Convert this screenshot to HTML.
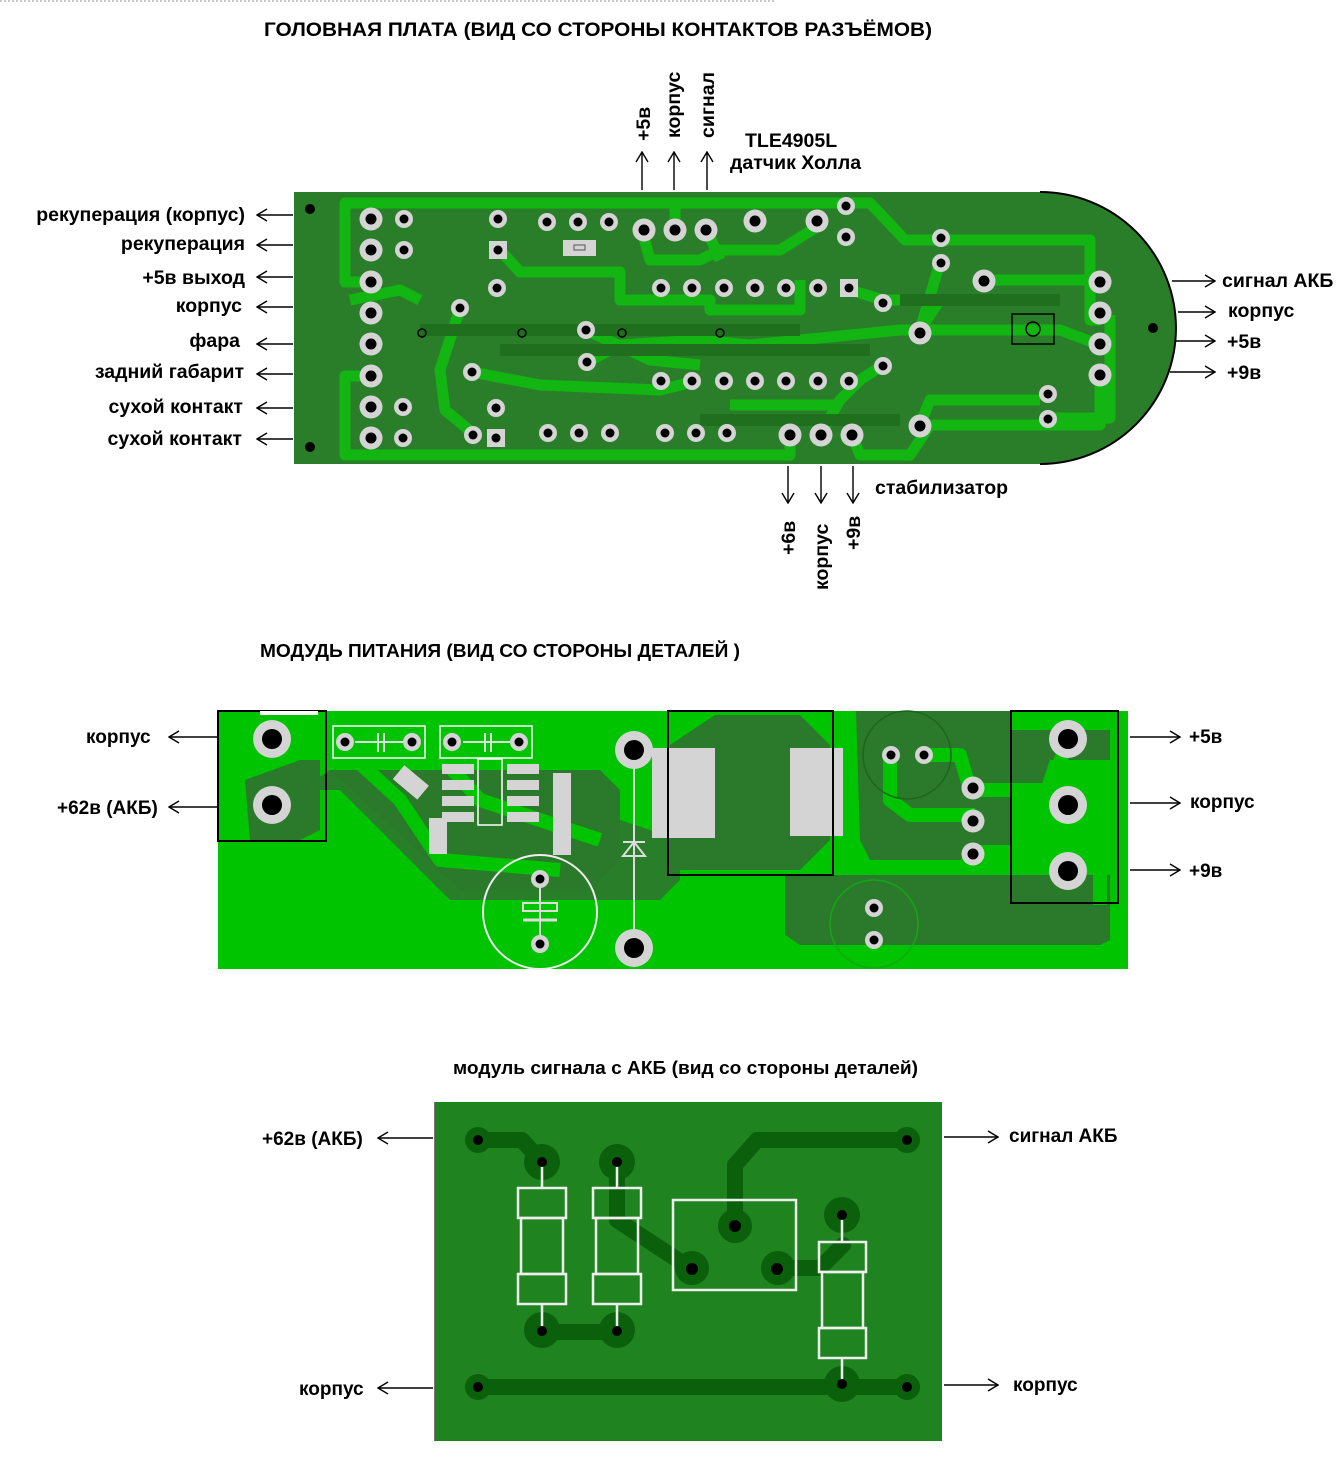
<!DOCTYPE html>
<html><head><meta charset="utf-8"><style>
html,body{margin:0;padding:0;background:#fff;}
svg{display:block}
text{font-family:"Liberation Sans",sans-serif;font-weight:bold;fill:#000;}
</style></head><body>
<svg width="1342" height="1479" viewBox="0 0 1342 1479" xmlns="http://www.w3.org/2000/svg">
<defs>
<marker id="ah" markerWidth="12" markerHeight="14" refX="11" refY="7" orient="auto" markerUnits="userSpaceOnUse">
<path d="M1,1 L11,7 L1,13" fill="none" stroke="#000" stroke-width="1.4"/>
</marker>
<g id="pad"><circle r="11.5" fill="#d4d4d4"/><circle r="5.5" fill="#000"/></g>
<g id="spad"><circle r="9" fill="#d4d4d4"/><circle r="4.5" fill="#000"/></g>
<g id="bpad"><circle r="19" fill="#d4d4d4"/><circle r="10" fill="#000"/></g>
</defs>
<line x1="0" y1="1" x2="775" y2="1" stroke="#999" stroke-dasharray="2,2"/>

<!-- TITLE 1 -->
<text x="264" y="36" font-size="19" textLength="668" lengthAdjust="spacingAndGlyphs">ГОЛОВНАЯ ПЛАТА (ВИД СО СТОРОНЫ КОНТАКТОВ РАЗЪЁМОВ)</text>

<!-- BOARD 1 -->
<path d="M294,192 H1040 A136,136 0 0 1 1040,464 H294 Z" fill="#2a7e2a"/>
<path d="M1040,192 A136,136 0 0 1 1040,464" fill="none" stroke="#000" stroke-width="2"/>
<g fill="none" stroke="#12b512" stroke-width="11" stroke-linejoin="round">
<path d="M371,282 H345 V203 H580 V203 H870 L905,240 H1090 V320 H1100"/>
<path d="M500,250 L520,272 H620 V300 H710 V310 H800 V280"/>
<path d="M586,330 L650,360 L700,365"/>
<path d="M460,308 L440,370 L445,410 L475,435"/>
<path d="M472,372 L540,385 L660,390 L700,380"/>
<path d="M587,362 L620,345 L700,340 L750,345 L900,330 H1060 L1100,345"/>
<path d="M371,376 H345 V455 H790 V435"/>
<path d="M852,435 L860,455 H910 L930,425 H1100 V380"/>
<path d="M883,365 L860,380 L840,400 L820,435"/>
<path d="M883,300 L940,300 L920,330"/>
<path d="M940,262 L920,330"/>
<path d="M642,230 L650,260 H700 L720,250 H780 L820,225"/>
<path d="M675,230 V205"/>
<path d="M708,232 L720,260"/>
<path d="M985,280 H1100"/>
<path d="M1048,418 H1110 V315"/>
<path d="M920,425 L930,400 H1040"/>
<path d="M883,300 L850,290"/>
<path d="M730,405 H840"/>
<path d="M350,300 L400,290 L420,300"/>
</g>
<g fill="none" stroke="#1f6f1f" stroke-width="12">
<path d="M420,330 H800"/><path d="M500,350 H870"/><path d="M900,300 H1060"/><path d="M700,420 H900"/>
</g>
<circle cx="310" cy="209" r="5" fill="#000"/><circle cx="310" cy="447" r="5" fill="#000"/>
<circle cx="1153" cy="328" r="5" fill="#000"/>
<g fill="none" stroke="#000" stroke-width="1.5"><circle cx="422" cy="333" r="4"/><circle cx="522" cy="333" r="4"/><circle cx="622" cy="333" r="4"/><circle cx="720" cy="333" r="4"/></g>
<rect x="1012" y="314" width="42" height="30" fill="none" stroke="#000" stroke-width="1.5"/>
<circle cx="1033" cy="329" r="7" fill="none" stroke="#000" stroke-width="1.5"/>
<g>
<use href="#pad" x="371" y="219"/><use href="#pad" x="371" y="250"/><use href="#pad" x="371" y="282"/><use href="#pad" x="371" y="313"/>
<use href="#pad" x="371" y="344"/><use href="#pad" x="371" y="376"/><use href="#pad" x="371" y="407"/><use href="#pad" x="371" y="438"/>
<use href="#spad" x="404" y="219"/><use href="#spad" x="404" y="250"/><use href="#spad" x="403" y="407"/><use href="#spad" x="403" y="438"/>
<use href="#spad" x="498" y="219"/><rect x="489" y="241" width="18" height="18" fill="#d4d4d4"/><circle cx="498" cy="250" r="4.5"/>
<use href="#spad" x="497" y="288"/><use href="#spad" x="460" y="308"/><use href="#spad" x="586" y="330"/><use href="#spad" x="587" y="362"/>
<use href="#spad" x="472" y="372"/><use href="#spad" x="496" y="408"/><use href="#spad" x="473" y="435"/><rect x="487" y="429" width="18" height="18" fill="#d4d4d4"/><circle cx="496" cy="438" r="4.5"/>
<use href="#spad" x="547" y="222"/><use href="#spad" x="578" y="222"/><use href="#spad" x="609" y="222"/>
<rect x="563" y="240" width="33" height="16" fill="#d4d4d4"/><rect x="574" y="245" width="11" height="5" fill="none" stroke="#555"/>
<use href="#pad" x="644" y="230"/><use href="#pad" x="675" y="230"/><use href="#pad" x="706" y="230"/>
<use href="#pad" x="755" y="221"/><use href="#pad" x="817" y="221"/><use href="#spad" x="846" y="206"/><use href="#spad" x="846" y="237"/>
<use href="#spad" x="661" y="288"/><use href="#spad" x="692" y="288"/><use href="#spad" x="724" y="288"/><use href="#spad" x="755" y="288"/><use href="#spad" x="786" y="288"/><use href="#spad" x="818" y="288"/>
<rect x="840" y="279" width="18" height="18" fill="#d4d4d4"/><circle cx="849" cy="288" r="4.5"/>
<use href="#spad" x="661" y="381"/><use href="#spad" x="692" y="381"/><use href="#spad" x="724" y="381"/><use href="#spad" x="755" y="381"/><use href="#spad" x="786" y="381"/><use href="#spad" x="818" y="381"/><use href="#spad" x="849" y="381"/>
<use href="#spad" x="548" y="433"/><use href="#spad" x="579" y="433"/><use href="#spad" x="610" y="433"/>
<use href="#spad" x="665" y="433"/><use href="#spad" x="696" y="433"/><use href="#spad" x="727" y="433"/>
<use href="#pad" x="790" y="435"/><use href="#pad" x="821" y="435"/><use href="#pad" x="852" y="435"/>
<use href="#spad" x="883" y="303"/><use href="#spad" x="883" y="366"/><use href="#pad" x="920" y="333"/><use href="#pad" x="920" y="426"/>
<use href="#spad" x="941" y="238"/><use href="#spad" x="941" y="263"/><use href="#pad" x="984" y="281"/>
<use href="#pad" x="1100" y="282"/><use href="#pad" x="1100" y="313"/><use href="#pad" x="1100" y="344"/><use href="#pad" x="1100" y="375"/>
<use href="#spad" x="1048" y="394"/><use href="#spad" x="1048" y="419"/>
</g>

<!-- left labels -->
<g font-size="19.5" text-anchor="end">
<text x="245" y="221">рекуперация (корпус)</text>
<text x="245" y="250">рекуперация</text>
<text x="245" y="284">+5в выход</text>
<text x="242" y="312">корпус</text>
<text x="240" y="347">фара</text>
<text x="244" y="378">задний габарит</text>
<text x="243" y="413">сухой контакт</text>
<text x="242" y="445">сухой контакт</text>
</g>
<g stroke="#000" stroke-width="1.4" marker-end="url(#ah)">
<line x1="293" y1="215" x2="257" y2="215"/><line x1="293" y1="245" x2="257" y2="245"/><line x1="293" y1="277" x2="257" y2="277"/><line x1="293" y1="307" x2="257" y2="307"/>
<line x1="293" y1="344" x2="257" y2="344"/><line x1="293" y1="374" x2="257" y2="374"/><line x1="293" y1="408" x2="257" y2="408"/><line x1="293" y1="439" x2="257" y2="439"/>
<line x1="1172" y1="281" x2="1215" y2="281"/><line x1="1178" y1="312" x2="1215" y2="312"/><line x1="1176" y1="341" x2="1215" y2="341"/><line x1="1170" y1="372" x2="1215" y2="372"/>
<line x1="642" y1="190" x2="642" y2="152"/><line x1="674" y1="190" x2="674" y2="152"/><line x1="707" y1="190" x2="707" y2="152"/>
<line x1="788" y1="466" x2="788" y2="503"/><line x1="821" y1="466" x2="821" y2="503"/><line x1="853" y1="466" x2="853" y2="503"/>
</g>
<g font-size="19.5">
<text x="1222" y="287">сигнал АКБ</text><text x="1228" y="317">корпус</text><text x="1227" y="348">+5в</text><text x="1227" y="379">+9в</text>
<text x="745" y="147">TLE4905L</text><text x="730" y="169">датчик Холла</text>
<text x="875" y="494">стабилизатор</text>
<text transform="translate(650,141) rotate(-90)">+5в</text>
<text transform="translate(680,138) rotate(-90)">корпус</text>
<text transform="translate(714,138) rotate(-90)">сигнал</text>
<text transform="translate(795,555) rotate(-90)">+6в</text>
<text transform="translate(828,590) rotate(-90)">корпус</text>
<text transform="translate(860,550) rotate(-90)">+9в</text>
</g>

<!-- TITLE 2 -->
<text x="260" y="657" font-size="18" textLength="480" lengthAdjust="spacingAndGlyphs">МОДУДЬ ПИТАНИЯ (ВИД СО СТОРОНЫ ДЕТАЛЕЙ )</text>

<!-- BOARD 2 -->
<rect x="218" y="711" width="910" height="258" fill="#00c400"/>
<g fill="#2b7a2b">
<path d="M245,780 L300,760 H320 V830 L300,840 H250 Z"/>
<path d="M300,790 L340,790 L450,900 H660 V900 L680,880 L680,840 L620,820 L610,790 L560,790 L540,780 H440 L420,770 H330 Z" opacity="0.95"/>
<path d="M330,770 H600 L620,790 V860 L590,890 H460 Z"/>
<path d="M715,715 H800 L830,745 V840 L800,870 H670 V745 Z"/>
<path d="M856,711 H1010 V845 H980 L960,860 H870 L860,840 Z"/>
<path d="M785,875 H1110 V940 L1100,945 H800 L785,935 Z"/>
<path d="M980,730 H1110 V760 H1050 L1040,790 H990 Z"/>
</g>
<g fill="none" stroke="#00c400" stroke-width="14" stroke-linejoin="round">
<path d="M340,745 L400,800 L440,860 L560,870"/>
<path d="M430,745 L480,800 L540,820 L600,840"/>
<path d="M890,755 V800 L910,815 H975"/>
<path d="M925,755 H960 L970,790 H1050 L1068,740"/>
<path d="M975,855 H1100 V905"/>
<path d="M1068,805 H1110 V830"/>
</g>
<rect x="218" y="711" width="108" height="130" fill="none" stroke="#000" stroke-width="2"/>
<rect x="260" y="711" width="58" height="4" fill="#fff"/>
<use href="#bpad" x="272" y="739"/><use href="#bpad" x="272" y="805"/>
<rect x="333" y="726" width="92" height="32" fill="none" stroke="#fff" stroke-width="1.5"/>
<rect x="440" y="726" width="92" height="32" fill="none" stroke="#fff" stroke-width="1.5"/>
<g stroke="#ddd" stroke-width="2"><line x1="355" y1="742" x2="410" y2="742"/><line x1="463" y1="742" x2="518" y2="742"/><line x1="378" y1="733" x2="378" y2="752"/><line x1="384" y1="733" x2="384" y2="752"/><line x1="485" y1="733" x2="485" y2="752"/><line x1="491" y1="733" x2="491" y2="752"/></g>
<use href="#spad" x="345" y="742"/><use href="#spad" x="412" y="742"/><use href="#spad" x="452" y="742"/><use href="#spad" x="519" y="742"/>
<g fill="#d4d4d4">
<rect x="442" y="764" width="32" height="10"/><rect x="442" y="780" width="32" height="10"/><rect x="442" y="796" width="32" height="10"/><rect x="442" y="812" width="32" height="10"/>
<rect x="507" y="764" width="32" height="10"/><rect x="507" y="780" width="32" height="10"/><rect x="507" y="796" width="32" height="10"/><rect x="507" y="812" width="32" height="10"/>
<rect x="429" y="818" width="18" height="36"/><rect x="553" y="773" width="18" height="82"/>
<rect x="652" y="748" width="63" height="90"/><rect x="790" y="748" width="53" height="88"/>
</g>
<rect x="478" y="759" width="24" height="66" fill="none" stroke="#fff" stroke-width="1.5"/>
<rect x="391" y="772" width="32" height="18" fill="#d4d4d4" transform="rotate(40 407 787)"/>
<rect x="668" y="711" width="165" height="164" fill="none" stroke="#000" stroke-width="2"/>
<rect x="1011" y="711" width="107" height="192" fill="none" stroke="#000" stroke-width="2"/>
<line x1="634" y1="750" x2="634" y2="948" stroke="#ddd" stroke-width="2"/>
<path d="M623,856 H645 L634,842 Z M623,842 H645" fill="none" stroke="#ddd" stroke-width="2"/>
<use href="#bpad" x="634" y="750"/><use href="#bpad" x="634" y="948"/>
<circle cx="540" cy="912" r="57" fill="none" stroke="#eee" stroke-width="2"/>
<rect x="523" y="903" width="34" height="8" fill="none" stroke="#ddd" stroke-width="2"/><line x1="523" y1="920" x2="557" y2="920" stroke="#ddd" stroke-width="3"/>
<line x1="540" y1="880" x2="540" y2="940" stroke="#ddd" stroke-width="2"/>
<use href="#spad" x="540" y="879"/><use href="#spad" x="540" y="944"/>
<circle cx="907" cy="755" r="44" fill="none" stroke="#1d661d" stroke-width="1.5"/>
<circle cx="874" cy="924" r="44" fill="none" stroke="#12a812" stroke-width="1.5"/>
<use href="#spad" x="891" y="755"/><use href="#spad" x="924" y="755"/>
<use href="#pad" x="973" y="788"/><use href="#pad" x="973" y="821"/><use href="#pad" x="973" y="854"/>
<use href="#spad" x="874" y="908"/><use href="#spad" x="874" y="940"/>
<use href="#bpad" x="1068" y="739"/><use href="#bpad" x="1068" y="805"/><use href="#bpad" x="1068" y="871"/>
<g font-size="19">
<text x="86" y="743">корпус</text><text x="57" y="814">+62в (АКБ)</text>
<text x="1189" y="743">+5в</text><text x="1190" y="808">корпус</text><text x="1189" y="877">+9в</text>
</g>
<g stroke="#000" stroke-width="1.4" marker-end="url(#ah)">
<line x1="217" y1="737" x2="169" y2="737"/><line x1="217" y1="807" x2="169" y2="807"/>
<line x1="1130" y1="737" x2="1180" y2="737"/><line x1="1130" y1="803" x2="1180" y2="803"/><line x1="1130" y1="870" x2="1180" y2="870"/>
</g>

<!-- TITLE 3 -->
<text x="453" y="1074" font-size="18" textLength="465" lengthAdjust="spacingAndGlyphs">модуль сигнала с АКБ (вид со стороны деталей)</text>

<!-- BOARD 3 -->
<rect x="434" y="1102" width="508" height="339" fill="#1f831f"/>
<line x1="434.5" y1="1102" x2="434.5" y2="1441" stroke="#777"/>
<g fill="none" stroke="#0b600b" stroke-width="16" stroke-linecap="round" stroke-linejoin="round">
<path d="M478,1140 H522 L542,1162"/>
<path d="M617,1162 V1220 L690,1268"/>
<path d="M735,1226 V1165 L757,1140 H907"/>
<path d="M778,1268 H820 L843,1245"/>
<path d="M542,1332 H617"/>
<path d="M478,1387 H907"/>
</g>
<g fill="#0b600b">
<circle cx="478" cy="1140" r="13"/><circle cx="542" cy="1162" r="18"/><circle cx="617" cy="1162" r="18"/><circle cx="907" cy="1140" r="13"/>
<circle cx="735" cy="1226" r="17"/><circle cx="692" cy="1268" r="17"/><circle cx="778" cy="1268" r="17"/><circle cx="842" cy="1215" r="18"/>
<circle cx="542" cy="1330" r="18"/><circle cx="617" cy="1330" r="18"/><circle cx="478" cy="1387" r="13"/><circle cx="842" cy="1384" r="18"/><circle cx="907" cy="1387" r="13"/>
</g>
<g fill="none" stroke="#eee" stroke-width="2.5">
<rect x="518" y="1188" width="48" height="30"/><rect x="521" y="1218" width="42" height="56"/><rect x="518" y="1274" width="48" height="30"/>
<rect x="593" y="1188" width="48" height="30"/><rect x="596" y="1218" width="42" height="56"/><rect x="593" y="1274" width="48" height="30"/>
<rect x="819" y="1242" width="47" height="30"/><rect x="822" y="1272" width="41" height="56"/><rect x="819" y="1328" width="47" height="30"/>
<rect x="673" y="1200" width="123" height="90"/>
<line x1="542" y1="1162" x2="542" y2="1188"/><line x1="542" y1="1304" x2="542" y2="1330"/>
<line x1="617" y1="1162" x2="617" y2="1188"/><line x1="617" y1="1304" x2="617" y2="1330"/>
<line x1="842" y1="1215" x2="842" y2="1242"/><line x1="842" y1="1358" x2="842" y2="1384"/>
</g>
<g fill="#000">
<circle cx="478" cy="1140" r="5"/><circle cx="542" cy="1162" r="5"/><circle cx="617" cy="1162" r="5"/><circle cx="907" cy="1140" r="5"/>
<circle cx="735" cy="1226" r="6"/><circle cx="692" cy="1269" r="6"/><circle cx="777" cy="1269" r="6"/><circle cx="842" cy="1215" r="5"/>
<circle cx="542" cy="1331" r="5"/><circle cx="617" cy="1331" r="5"/><circle cx="478" cy="1387" r="5"/><circle cx="842" cy="1384" r="5"/><circle cx="907" cy="1387" r="5"/>
</g>
<g font-size="19">
<text x="262" y="1145">+62в (АКБ)</text><text x="299" y="1395">корпус</text>
<text x="1009" y="1142">сигнал АКБ</text><text x="1013" y="1391">корпус</text>
</g>
<g stroke="#000" stroke-width="1.4" marker-end="url(#ah)">
<line x1="433" y1="1138" x2="378" y2="1138"/><line x1="433" y1="1388" x2="378" y2="1388"/>
<line x1="944" y1="1137" x2="998" y2="1137"/><line x1="944" y1="1385" x2="998" y2="1385"/>
</g>
</svg>
</body></html>
